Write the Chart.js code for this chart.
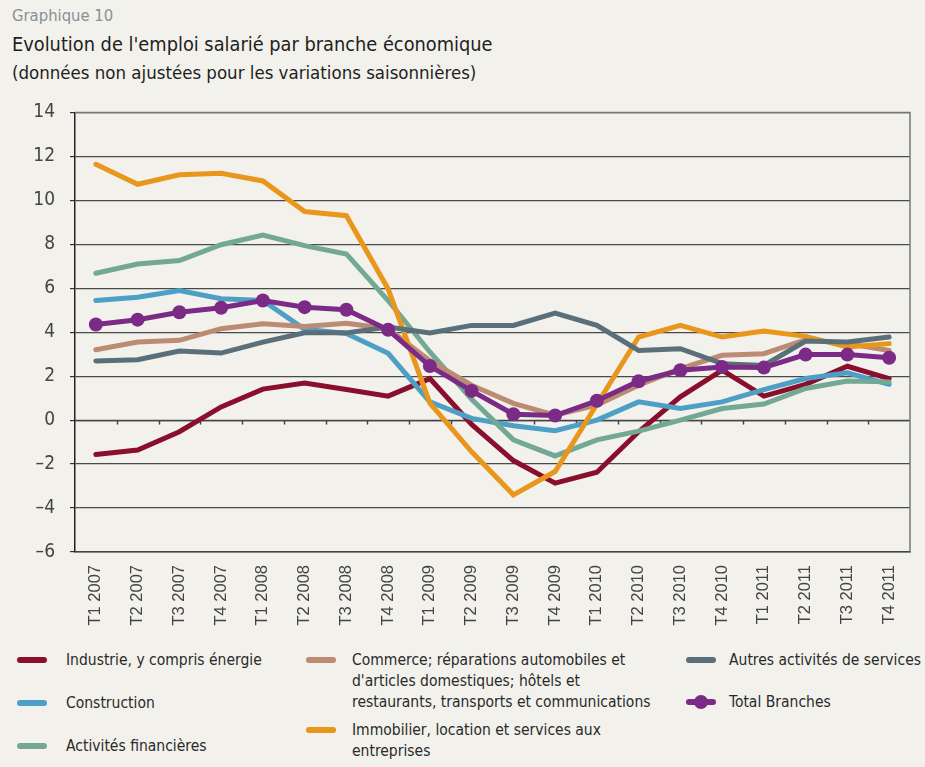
<!DOCTYPE html>
<html lang="fr">
<head>
<meta charset="utf-8">
<script src="https://cdn.jsdelivr.net/npm/chart.js@4/dist/chart.umd.min.js"></script>
<style>
  html, body { margin: 0; padding: 0; background: #f2f1eb; }
  body { width: 925px; height: 767px; position: relative; overflow: hidden;
         font-family: "Liberation Sans Narrow", "DejaVu Sans Condensed", "Roboto", sans-serif; color: #222; }
  .t0 { position: absolute; left: 12px; top: 6px; font-size: 16.5px; color: #8a8f94; }
  .t1 { position: absolute; left: 12px; top: 33px; font-size: 19.8px; color: #1e1e1e; }
  .t2 { position: absolute; left: 12px; top: 62px; font-size: 18.5px; color: #1e1e1e; }
  #wrap { position: absolute; left: 0; top: 86px; width: 925px; height: 554px; }
  .leg { position: absolute; font-size: 15.5px; line-height: 21px; color: #2a2a2a; }
  .sw { position: absolute; width: 30px; height: 6px; border-radius: 3px; }
  .dot { position: absolute; width: 14px; height: 14px; border-radius: 7px; }
</style>
</head>
<body>
<div class="t0">Graphique 10</div>
<div class="t1">Evolution de l'emploi salarié par branche économique</div>
<div class="t2">(données non ajustées pour les variations saisonnières)</div>
<div id="wrap"><canvas id="c"></canvas></div>
<div id="legend"></div>
<script>
// trimestres
var labels = ['T1 2007','T2 2007','T3 2007','T4 2007','T1 2008','T2 2008','T3 2008','T4 2008',
              'T1 2009','T2 2009','T3 2009','T4 2009','T1 2010','T2 2010','T3 2010','T4 2010',
              'T1 2011','T2 2011','T3 2011','T4 2011'];

// variations en %
var industrie   = [-1.56,-1.36,-0.53,0.6,1.41,1.69,1.39,1.09,1.89,-0.2,-1.84,-2.87,-2.37,-0.53,1.06,2.27,1.09,1.63,2.45,1.89];
var construction= [5.44,5.59,5.9,5.52,5.44,4.13,3.94,3.04,0.83,0.08,-0.26,-0.48,0.0,0.83,0.53,0.83,1.39,1.89,2.15,1.63];
var financieres = [6.68,7.1,7.26,7.98,8.42,7.94,7.56,5.44,3.1,0.95,-0.9,-1.63,-0.9,-0.5,0.0,0.53,0.73,1.44,1.78,1.74];
var commerce    = [3.2,3.55,3.63,4.16,4.38,4.26,4.41,4.16,2.7,1.59,0.76,0.23,0.68,1.59,2.34,2.95,3.02,3.66,3.48,3.17];
var immobilier  = [11.64,10.73,11.16,11.23,10.88,9.49,9.3,5.97,0.77,-1.44,-3.4,-2.34,0.72,3.78,4.31,3.78,4.05,3.81,3.33,3.48];
var autres      = [2.69,2.75,3.14,3.05,3.55,3.97,3.97,4.23,3.97,4.31,4.31,4.87,4.31,3.17,3.25,2.57,2.49,3.6,3.55,3.78];
var total       = [4.35,4.57,4.91,5.11,5.44,5.14,5.02,4.11,2.46,1.33,0.27,0.21,0.88,1.77,2.27,2.42,2.39,2.98,2.98,2.84];

var yMin = -6, yMax = 14, yStep = 2;

var series = [
  { label: 'Industrie, y compris énergie', data: industrie, color: '#8a0f2c', order: 6 },
  { label: 'Construction', data: construction, color: '#4d9fc6', order: 5 },
  { label: 'Activités financières', data: financieres, color: '#72a894', order: 4 },
  { label: 'Commerce; réparations automobiles et d\'articles domestiques; hôtels et restaurants, transports et communications', data: commerce, color: '#bc8b73', order: 3 },
  { label: 'Immobilier, location et services aux entreprises', data: immobilier, color: '#e8961c', order: 2 },
  { label: 'Autres activités de services', data: autres, color: '#5b6f7b', order: 1 },
  { label: 'Total Branches', data: total, color: '#7b2a85', order: 0, points: true }
];

// petits traits sur la ligne du zéro, entre les trimestres
var zeroTicks = {
  id: 'zeroTicks',
  beforeDatasetsDraw: function(chart) {
    var x = chart.scales.x, y = chart.scales.y, ctx = chart.ctx;
    var y0 = Math.round(y.getPixelForValue(0)) + 0.5;
    var half = (x.getPixelForTick(1) - x.getPixelForTick(0)) / 2;
    ctx.save();
    ctx.strokeStyle = '#444';
    ctx.lineWidth = 1.5;
    ctx.beginPath();
    ctx.moveTo(chart.chartArea.left, y0);
    ctx.lineTo(chart.chartArea.right, y0);
    for (var i = 1; i < labels.length; i++) {
      var px = Math.round(x.getPixelForTick(i) - half) + 0.5;
      ctx.moveTo(px, y0);
      ctx.lineTo(px, y0 + 4);
    }
    ctx.stroke();
    // cadre droit et haut
    ctx.strokeStyle = '#777';
    ctx.lineWidth = 1.5;
    ctx.beginPath();
    ctx.moveTo(chart.chartArea.left, chart.chartArea.top);
    ctx.lineTo(chart.chartArea.right, chart.chartArea.top);
    ctx.lineTo(chart.chartArea.right, chart.chartArea.bottom);
    ctx.stroke();
    ctx.restore();
  }
};

new Chart(document.getElementById('c'), {
  type: 'line',
  data: {
    labels: labels,
    datasets: series.map(function(s) {
      return {
        label: s.label,
        data: s.data,
        borderColor: s.color,
        backgroundColor: s.color,
        borderWidth: 5,
        borderCapStyle: 'round',
        borderJoinStyle: 'miter',
        pointRadius: s.points ? 7 : 0,
        pointHoverRadius: s.points ? 7 : 0,
        pointBorderWidth: 0,
        tension: 0,
        order: s.order
      };
    })
  },
  plugins: [zeroTicks],
  options: {
    responsive: true,
    maintainAspectRatio: false,
    animation: false,
    layout: { padding: { top: 7, right: 15, bottom: 0, left: 0 } },
    plugins: { legend: { display: false }, tooltip: { enabled: false } },
    scales: {
      x: {
        offset: true,
        afterFit: function(s) { s.height = 88; },
        grid: { display: false, drawTicks: false },
        border: { display: true, color: '#444', width: 1.5 },
        ticks: {
          minRotation: 90, maxRotation: 90, autoSkip: false, padding: 13,
          color: '#444', font: { family: 'Liberation Sans, Arial, sans-serif', size: 16.5 }
        }
      },
      y: {
        min: yMin, max: yMax,
        afterFit: function(s) { s.width = 75; },
        grid: { color: '#4a4a4a', lineWidth: 1.2, tickLength: 5, tickColor: '#333' },
        border: { display: true, color: '#222', width: 1.5 },
        ticks: {
          stepSize: yStep, padding: 15, color: '#444',
          font: { family: 'Liberation Sans Narrow, DejaVu Sans Condensed, sans-serif', size: 19 },
          callback: function(v) { return String(v).replace('-', '–'); }
        }
      }
    }
  }
});

// légende en HTML
var legPos = [
  { sx: 17, sy: 657, tx: 66, ty: 650, w: 230 },
  { sx: 17, sy: 700, tx: 66, ty: 693, w: 230 },
  { sx: 17, sy: 743, tx: 66, ty: 736, w: 230 },
  { sx: 306, sy: 657, tx: 352, ty: 650, w: 310 },
  { sx: 306, sy: 727, tx: 352, ty: 720, w: 260 },
  { sx: 686, sy: 657, tx: 729, ty: 650, w: 200 },
  { sx: 686, sy: 699, tx: 729, ty: 692, w: 200 }
];
var legendEl = document.getElementById('legend');
series.forEach(function(s, i) {
  var p = legPos[i];
  var sw = document.createElement('div');
  sw.className = 'sw';
  sw.style.left = p.sx + 'px'; sw.style.top = p.sy + 'px'; sw.style.background = s.color;
  legendEl.appendChild(sw);
  if (s.points) {
    var d = document.createElement('div');
    d.className = 'dot';
    d.style.left = (p.sx + 8) + 'px'; d.style.top = (p.sy - 4) + 'px'; d.style.background = s.color;
    legendEl.appendChild(d);
  }
  var t = document.createElement('div');
  t.className = 'leg';
  t.style.left = p.tx + 'px'; t.style.top = p.ty + 'px'; t.style.width = p.w + 'px';
  t.textContent = s.label;
  legendEl.appendChild(t);
});
</script>
</body>
</html>
